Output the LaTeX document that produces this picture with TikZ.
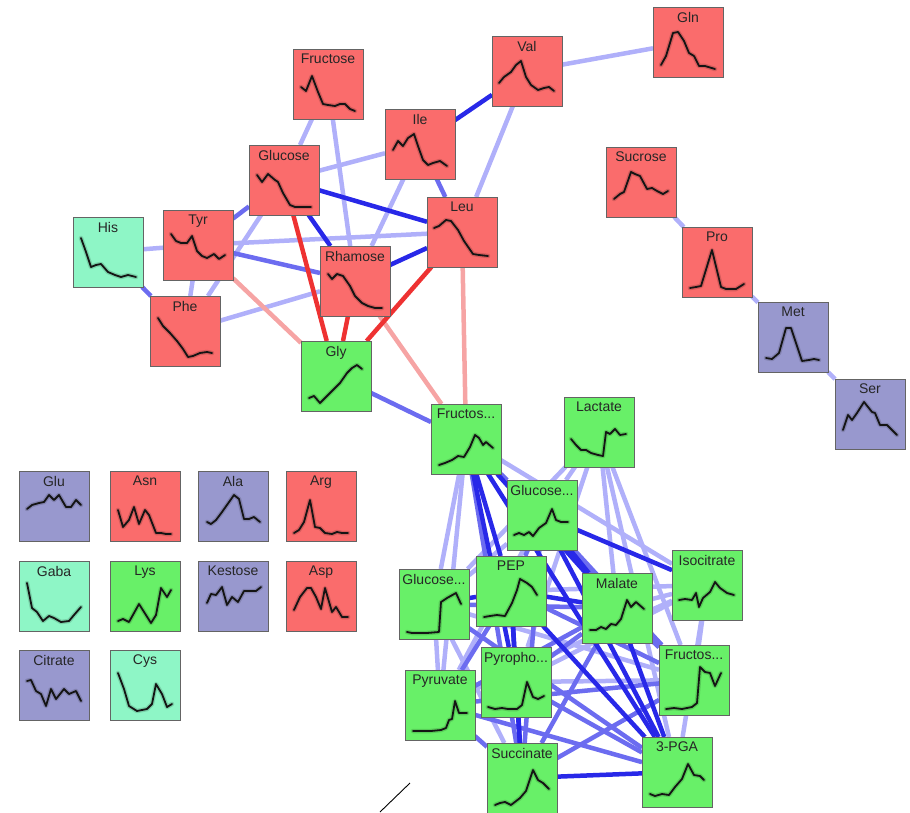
\documentclass[tikz,border=0pt]{standalone}
\usepackage{fontspec}
\setmainfont{Liberation Sans}
\pgfdeclarelayer{edges}
\pgfsetlayers{edges,main}

\definecolor{boxred}{RGB}{250,108,108}
\definecolor{boxgreen}{RGB}{104,240,104}
\definecolor{boxmint}{RGB}{142,246,198}
\definecolor{boxviolet}{RGB}{152,152,206}
\definecolor{boxline}{RGB}{100,100,100}
\definecolor{linkdark}{RGB}{40,40,232}
\definecolor{linkmid}{RGB}{108,108,240}
\definecolor{linklight}{RGB}{176,176,250}
\definecolor{linkred}{RGB}{238,50,50}
\definecolor{linkpink}{RGB}{246,164,164}

\tikzset{
  metab/.style={draw=boxline, line width=0.8pt, minimum width=70pt, minimum height=70pt, inner sep=0pt, outer sep=0pt},
  lab/.style={anchor=north, inner sep=0pt, font=\fontsize{14}{16}\selectfont, text=black!85, yshift=-5pt},
  trace/.style={line width=1.8pt, black!92, line join=round, line cap=round},
  band/.style={line width=4.5pt, black, opacity=0.15, line join=round, line cap=round},
  eL/.style={draw=linklight, line width=4.5pt},
  eM/.style={draw=linkmid, line width=4.5pt},
  eD/.style={draw=linkdark, line width=4.5pt},
  rL/.style={draw=linkpink, line width=4.5pt},
  rD/.style={draw=linkred, line width=4.5pt},
}

% box with its title: name, fill, centre, title
\newcommand\metbox[4]{%
  \node[metab, fill=#2] (#1) at (#3) {};
  \node[lab] (#1-t) at (#1.north) {#4};}
% time-course trace inside a box, local coordinates from its top-left corner
\newcommand\trend[2]{%
  \begin{scope}[shift={(#1.north west)}]
    \draw[band] plot coordinates {#2};
    \draw[trace] plot coordinates {#2};
  \end{scope}}

\begin{document}
\begin{tikzpicture}[x=1pt, y=-1pt]
\useasboundingbox (0,0) rectangle (910,813);

% ---- upper cluster
\metbox{gln}{boxred}{688,42}{Gln}
\metbox{val}{boxred}{527,71}{Val}
\metbox{fru}{boxred}{328,84}{Fructose}
\metbox{ile}{boxred}{420,144}{Ile}
\metbox{glc}{boxred}{284,180}{Glucose}
\metbox{leu}{boxred}{462,232}{Leu}
\metbox{tyr}{boxred}{198,245}{Tyr}
\metbox{his}{boxmint}{108,252}{His}
\metbox{rha}{boxred}{355,281}{Rhamose}
\metbox{phe}{boxred}{185,331}{Phe}
\metbox{gly}{boxgreen}{336,376}{Gly}
\metbox{sucr}{boxred}{641,182}{Sucrose}
\metbox{pro}{boxred}{717,262}{Pro}
\metbox{met}{boxviolet}{793,337}{Met}
\metbox{ser}{boxviolet}{870,414}{Ser}

% ---- unconnected grid
\metbox{glu}{boxviolet}{54,506}{Glu}
\metbox{asn}{boxred}{145,506}{Asn}
\metbox{ala}{boxviolet}{233,506}{Ala}
\metbox{arg}{boxred}{321,506}{Arg}
\metbox{gaba}{boxmint}{54,596}{Gaba}
\metbox{lys}{boxgreen}{145,596}{Lys}
\metbox{kes}{boxviolet}{233,596}{Kestose}
\metbox{asp}{boxred}{321,596}{Asp}
\metbox{cit}{boxviolet}{54,685}{Citrate}
\metbox{cys}{boxmint}{145,685}{Cys}

% ---- lower cluster
\metbox{fa}{boxgreen}{466,439}{Fructos...}
\metbox{lac}{boxgreen}{599,432}{Lactate}
\metbox{gb}{boxgreen}{542,515}{Glucose...}
\metbox{gc}{boxgreen}{434,604}{Glucose...}
\metbox{pep}{boxgreen}{511,591}{PEP}
\metbox{mal}{boxgreen}{617,608}{Malate}
\metbox{iso}{boxgreen}{707,585}{Isocitrate}
\metbox{ppi}{boxgreen}{516,682}{Pyropho...}
\metbox{fd}{boxgreen}{694,680}{Fructos...}
\metbox{pyr}{boxgreen}{440,705}{Pyruvate}
\metbox{succ}{boxgreen}{522,778}{Succinate}
\metbox{pga}{boxgreen}{677,772}{3-PGA}

% ---- links
\begin{pgfonlayer}{edges}
\foreach \a/\b in {val/gln, val/leu, fru/glc, fru/rha, glc/ile, ile/rha, tyr/leu,
    his/tyr, tyr/phe, phe/rha, glc/phe, sucr/pro, pro/met, met/ser}
  \draw[eL] (\a) -- (\b);
\foreach \a/\b in {fa/gc, fa/pyr, fa/iso, lac/gb, lac/mal, lac/fd, lac/gc, lac/pga,
    lac/ppi, gb/gc, gb/pyr, gc/pyr, gc/succ, gc/fd, pep/iso, mal/iso, iso/fd,
    iso/pga, iso/ppi, iso/pyr, ppi/fd}
  \draw[eL] (\a) -- (\b);
\foreach \a/\b in {ile/leu, glc/tyr, tyr/rha, his/phe, gly/fa}
  \draw[eM] (\a) -- (\b);
\foreach \a/\b in {fa/gb, fa/succ, fa/fd, gb/pep, gb/succ, gb/fd, gc/mal, gc/pga,
    pep/fd, pep/pyr, mal/fd, mal/pyr, mal/succ, mal/ppi, ppi/pga, pyr/succ,
    pyr/pga, pyr/fd, succ/fd}
  \draw[eM] (\a) -- (\b);
\foreach \a/\b in {rha/fa, leu/fa, tyr/gly}
  \draw[rL] (\a) -- (\b);
\foreach \a/\b in {glc/gly, rha/gly, leu/gly}
  \draw[rD] (\a) -- (\b);
\foreach \a/\b in {ile/val, glc/leu, glc/rha, rha/leu}
  \draw[eD] (\a) -- (\b);
\foreach \a/\b in {fa/pep, fa/mal, fa/ppi, fa/pga, gb/iso, gb/mal, gb/pga, gc/pep,
    pep/mal, pep/ppi, pep/succ, pep/pga, mal/pga, ppi/succ, succ/pga}
  \draw[eD] (\a) -- (\b);
\end{pgfonlayer}

% ---- traces
\trend{fru}{(8,38) (13,42) (19,27) (25,43) (30,55) (35,56) (42,57) (47,55) (52,55) (57,60) (62,62)}
\trend{ile}{(8,41) (13,32) (18,37) (23,29) (29,25) (33,37) (38,51) (43,56) (48,54) (55,52) (62,57)}
\trend{glc}{(8,30) (13,37) (19,29) (26,35) (29,37) (34,48) (41,60) (46,62) (54,62) (62,62)}
\trend{tyr}{(8,24) (13,31) (18,33) (24,33) (29,26) (34,41) (39,46) (44,48) (51,44) (56,49) (62,45)}
\trend{his}{(8,21) (13,35) (18,50) (23,48) (28,47) (35,55) (42,58) (48,60) (55,58) (63,60)}
\trend{phe}{(8,22) (13,30) (20,37) (27,45) (33,53) (38,61) (43,60) (50,57) (57,56) (62,57)}
\trend{rha}{(8,28) (12,33) (17,28) (23,30) (30,40) (35,50) (42,57) (48,60) (55,62) (62,62)}
\trend{gly}{(8,57) (13,55) (19,62) (26,55) (33,48) (39,42) (46,32) (51,27) (56,24) (61,28)}
\trend{leu}{(7,31) (12,29) (19,23) (24,24) (31,33) (37,44) (46,57) (52,58) (61,59)}
\trend{val}{(7,47) (12,41) (19,36) (24,29) (29,25) (34,41) (39,49) (46,54) (52,52) (57,51) (62,55)}
\trend{gln}{(8,58) (13,49) (20,26) (25,25) (31,34) (36,46) (41,49) (46,59) (52,59) (62,62)}
\trend{sucr}{(8,52) (14,47) (18,45) (25,25) (29,27) (34,29) (41,42) (46,41) (51,44) (57,47) (62,44)}
\trend{pro}{(8,61) (14,60) (19,59) (30,23) (39,60) (44,62) (54,62) (62,57)}
\trend{met}{(8,56) (14,57) (21,51) (28,26) (33,26) (38,41) (44,59) (51,58) (56,57) (61,58)}
\trend{ser}{(8,51) (13,36) (17,41) (22,34) (29,23) (37,33) (40,34) (45,46) (52,46) (62,56)}

\trend{glu}{(8,38) (13,34) (20,32) (25,31) (30,24) (35,29) (40,24) (47,36) (52,36) (57,29) (62,34)}
\trend{asn}{(8,39) (13,56) (19,49) (24,36) (29,53) (35,39) (39,44) (46,62) (51,62) (56,63) (61,63)}
\trend{ala}{(9,51) (13,53) (18,49) (24,41) (36,24) (41,28) (46,48) (51,48) (56,46) (62,51)}
\trend{arg}{(8,62) (13,59) (18,51) (24,29) (29,56) (34,57) (39,62) (46,63) (51,61) (56,62) (62,62)}
\trend{gaba}{(8,22) (13,47) (18,51) (24,60) (30,55) (35,57) (42,61) (50,60) (55,54) (62,46)}
\trend{lys}{(8,60) (13,58) (19,61) (29,43) (41,62) (46,54) (51,27) (57,36) (61,29)}
\trend{kes}{(9,42) (13,33) (18,34) (24,26) (29,44) (34,36) (40,41) (46,30) (58,30) (63,26)}
\trend{asp}{(8,49) (14,36) (21,27) (25,27) (30,36) (35,48) (39,27) (46,51) (50,46) (56,56) (62,56)}
\trend{cit}{(8,31) (12,30) (17,41) (22,44) (27,56) (32,39) (37,49) (45,39) (50,44) (57,41) (62,51)}
\trend{cys}{(8,23) (14,39) (19,56) (27,61) (37,59) (42,54) (46,34) (52,44) (57,57) (62,54)}

\trend{fa}{(8,61) (14,59) (21,56) (27,52) (33,53) (39,43) (44,31) (48,34) (52,41) (55,38) (62,44)}
\trend{lac}{(7,42) (12,48) (17,53) (22,53) (27,56) (34,58) (39,59) (42,35) (46,37) (51,32) (56,38) (62,37)}
\trend{gb}{(7,55) (12,53) (17,55) (22,52) (26,56) (32,48) (39,43) (45,29) (49,40) (54,42) (61,42)}
\trend{gc}{(8,63) (13,64) (20,64) (28,64) (40,63) (42,33) (48,29) (57,24) (62,35)}
\trend{pep}{(8,61) (14,60) (21,59) (29,60) (36,47) (41,34) (44,23) (51,27) (56,31) (61,39)}
\trend{mal}{(8,57) (14,57) (19,54) (24,56) (29,51) (34,52) (39,46) (45,27) (49,34) (54,29) (62,36)}
\trend{iso}{(7,50) (13,49) (20,50) (24,43) (27,57) (31,48) (38,42) (43,32) (48,38) (55,43) (62,45)}
\trend{ppi}{(7,60) (14,62) (21,61) (27,62) (36,62) (41,58) (46,35) (52,50) (57,52) (63,49)}
\trend{fd}{(7,64) (15,63) (23,64) (33,62) (38,58) (41,22) (46,27) (51,28) (56,41) (62,28)}
\trend{pyr}{(8,61) (16,61) (26,61) (36,60) (41,58) (44,50) (47,49) (50,31) (54,43) (62,43)}
\trend{succ}{(8,62) (13,60) (18,59) (24,62) (33,55) (39,48) (46,27) (51,37) (56,40) (62,46)}
\trend{pga}{(8,57) (13,59) (20,57) (27,58) (33,50) (40,42) (46,27) (52,38) (58,39) (62,43)}

% ---- stray stroke near the bottom edge
\coordinate (st1) at (380,812);
\coordinate (st2) at (410,783);
\draw[line width=0.9pt] (st1) -- (st2);
\end{tikzpicture}
\end{document}
